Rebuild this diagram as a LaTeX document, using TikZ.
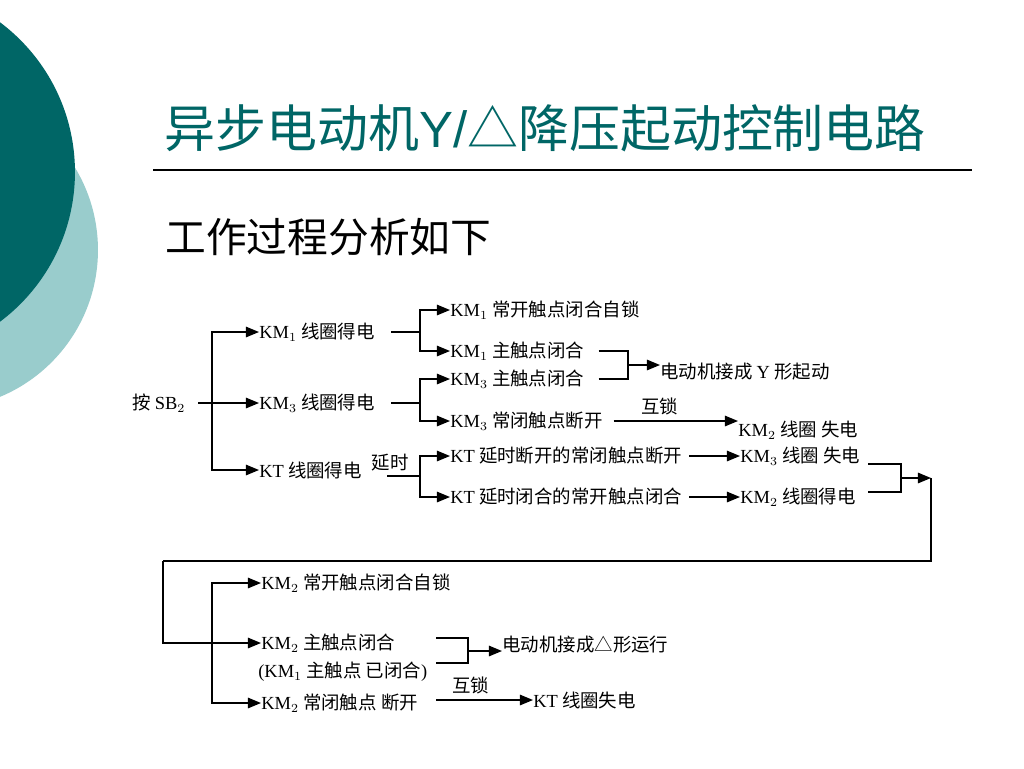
\documentclass[tikz,border=0pt]{standalone}
\usepackage{fontspec}
\setmainfont{Liberation Serif}
\newfontfamily\cjk{Noto Sans CJK SC}
\newfontfamily\arial{Liberation Sans}
\usetikzlibrary{arrows.meta}
\definecolor{darkteal}{RGB}{0,102,102}
\definecolor{lightteal}{RGB}{153,204,204}
\newcommand\KM[1]{{\rmfamily KM}$_{#1}$}

\begin{document}
\begin{tikzpicture}[x=0.02cm, y=-0.02cm,
    txt/.style={font=\cjk\fontsize{10.5}{12}\selectfont, anchor=west, inner sep=0pt},
    lbl/.style={font=\cjk\fontsize{10.5}{12}\selectfont, inner sep=0pt},
    wire/.style={line width=0.85pt},
    arr/.style={wire, -{Triangle[length=7.5pt, width=6pt]}},
    lgap/.style={shorten <=#1}]
    % slide background
    \fill[white] (0,0) rectangle (1024,768);
    \clip (0,0) rectangle (1024,768);
    \fill[lightteal] (-61,250) circle [radius=3.18cm];
    \fill[darkteal] (-112,172) circle [radius=3.74cm];

    \node[anchor=west, inner sep=0pt, text=darkteal, font=\cjk\fontsize{29}{32}\selectfont] (title) at (164,128) {异步电动机{\arial Y/}△降压起动控制电路};
    \draw[line width=1pt] (153,170) -- (972,170);
    \node[anchor=west, inner sep=0pt, font=\cjk\fontsize{23.2}{26}\selectfont] (intro) at (165,237) {工作过程分析如下};

    % first stage
    \node[txt] (sb2) at (132,403) {按 {\rmfamily SB}$_2$};
    \node[txt] (km1c) at (259,332) {\KM1 线圈得电};
    \node[txt] (km3c) at (259,403) {\KM3 线圈得电};
    \node[txt] (ktc) at (259,470) {{\rmfamily KT} 线圈得电};
    \node[lbl] (delay) at (390,463) {延时};
    \node[txt] (km1no) at (450,310) {\KM1 常开触点闭合自锁};
    \node[txt] (km1mc) at (450,351) {\KM1 主触点闭合};
    \node[txt] (km3mc) at (450,379) {\KM3 主触点闭合};
    \node[txt] (km3nc) at (450,421) {\KM3 常闭触点断开};
    \node[txt] (ktnc) at (450,456) {{\rmfamily KT} 延时断开的常闭触点断开};
    \node[txt] (ktno) at (450,497) {{\rmfamily KT} 延时闭合的常开触点闭合};
    \node[txt] (star) at (660,372) {电动机接成 {\rmfamily Y} 形起动};
    \node[txt] (km2off) at (738,430) {\KM2 线圈 失电};
    \node[txt] (km3off) at (740,456) {\KM3 线圈 失电};
    \node[txt] (km2on) at (740,497) {\KM2 线圈得电};

    \coordinate (f0) at (212,403);
    \coordinate (f1) at (420,332);
    \coordinate (f3) at (420,403);
    \coordinate (kts) at (387,476);
    \coordinate (ft) at (420,476);
    \coordinate (fy) at (628,365);
    \coordinate (j1) at (868,464);
    \coordinate (j2) at (868,492);
    \coordinate (fj) at (901,478);
    \coordinate (turn) at (931,478);
    \coordinate (back) at (163,561);

    \draw[wire, lgap=7pt] (sb2) -- (f0);
    \draw[arr] (f0) |- (km1c);
    \draw[arr] (f0) -- (km3c);
    \draw[arr] (f0) |- (ktc);
    \draw[wire, lgap=9pt] (km1c) -- (f1);
    \draw[arr] (f1) |- (km1no);
    \draw[arr] (f1) |- (km1mc);
    \draw[wire, lgap=9pt] (km3c) -- (f3);
    \draw[arr] (f3) |- (km3mc);
    \draw[arr] (f3) |- (km3nc);
    \draw[wire] (kts) -- (ft);
    \draw[arr] (ft) |- (ktnc);
    \draw[arr] (ft) |- (ktno);
    \draw[wire, lgap=8pt] (km1mc) -| (fy);
    \draw[wire, lgap=8pt] (km3mc) -| (fy);
    \draw[arr] (fy) -- (fy -| star.west);
    \draw[arr, lgap=6pt] (km3nc) -- (km3nc -| km2off.west) node[lbl, pos=0.42, above=3pt] (lock1) {互锁};
    \draw[arr, lgap=4pt] (ktnc) -- (km3off);
    \draw[arr, lgap=4pt] (ktno) -- (km2on);
    \draw[wire] (j1) -| (fj) |- (j2);
    \draw[arr] (fj) -- (turn);

    % second stage
    \node[txt] (km2no) at (261,583) {\KM2 常开触点闭合自锁};
    \node[txt] (km2mc) at (261,643) {\KM2 主触点闭合};
    \node[txt] (km1ad) at (258,672) {{\rmfamily(}\KM1 主触点 已闭合{\rmfamily)}};
    \node[txt] (km2nc) at (261,703) {\KM2 常闭触点 断开};
    \node[txt] (delta) at (502,645) {电动机接成△形运行};
    \node[txt] (ktoff) at (533,700) {{\rmfamily KT} 线圈失电};

    \coordinate (f2) at (212,643);
    \coordinate (d1) at (436,638);
    \coordinate (d2) at (436,663);
    \coordinate (fd) at (468,651);
    \coordinate (lk) at (436,700);

    \draw[wire] (turn) |- (back);
    \draw[arr] (back) |- (km2mc);
    \draw[arr] (f2) |- (km2no);
    \draw[arr] (f2) |- (km2nc);
    \draw[wire] (d1) -| (fd) |- (d2);
    \draw[arr] (fd) -- (fd -| delta.west);
    \draw[arr] (lk) -- (lk -| ktoff.west) node[lbl, pos=0.36, above=3pt] (lock2) {互锁};
\end{tikzpicture}
\end{document}
